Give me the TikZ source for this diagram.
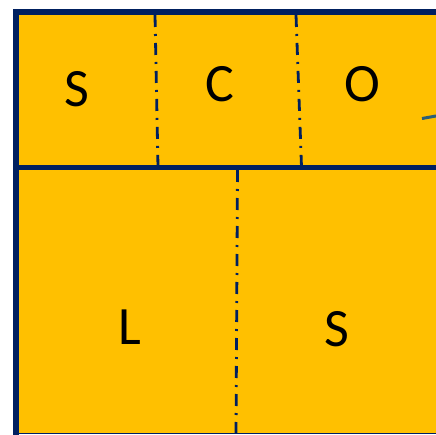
\documentclass[tikz,border=0pt]{standalone}
\usepackage{fontspec}
\setmainfont{Carlito}
\definecolor{gelb}{HTML}{FFC000}
\definecolor{nachtblau}{HTML}{002060}
\definecolor{petrol}{HTML}{2A5E78}
\tikzset{
  rand/.style={nachtblau,line width=5.5pt},
  trenn/.style={nachtblau,line width=2.8pt,dash pattern=on 12pt off 7pt on 2pt off 7pt},
  feld/.style={fill=gelb,draw=nachtblau,line width=0.8pt},
  buchst/.style={anchor=base,inner sep=0pt,font=\fontsize{54}{54}\selectfont},
}
\begin{document}
\begin{tikzpicture}[x=1pt,y=-1pt]
  \useasboundingbox (0,0) rectangle (435,435);
  \draw[feld] (16,12) rectangle (440,433);
  \draw[petrol,line width=3pt] (422,118.5)--(436,116);
  % Trennlinien
  \draw[trenn] (155,15)--(158,167);
  \draw[trenn] (296,15)--(301.5,167);
  \draw[trenn] (237.5,170)--(236,433);
  \draw[rand] (16,167.5)--(440,167.5);
  \draw[rand] (13.25,12)--(440,12);
  \draw[rand] (16,9.25)--(16,436);
  \node[buchst] (s1) at (77,107) {S};
  \node[buchst] (c) at (220,102) {C};
  \node[buchst] (o) at (362,102) {O};
  \node[buchst] (l) at (130,344) {L};
  \node[buchst] (s2) at (337,346) {S};
\end{tikzpicture}
\end{document}
